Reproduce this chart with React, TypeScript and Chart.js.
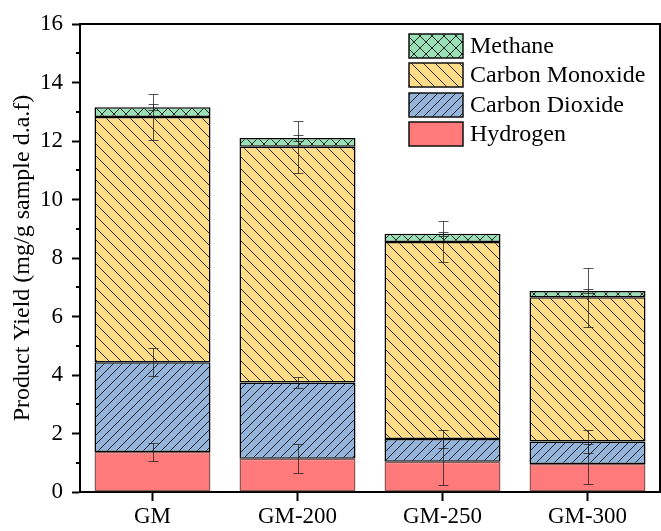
import React, { useEffect, useRef } from 'react';
import { Chart, registerables } from 'chart.js';

Chart.register(...registerables);

const categories = ['GM', 'GM-200', 'GM-250', 'GM-300'];
const hydrogen = [1.37, 1.14, 1.03, 0.96];
const carbonDioxide = [3.07, 2.6, 0.78, 0.77];
const carbonMonoxide = [8.38, 8.06, 6.74, 4.93];
const methane = [0.33, 0.3, 0.28, 0.21];
const hydrogenErr = [0.3, 0.5, 0.78, 0.69];
const carbonDioxideErr = [0.49, 0.19, 0.3, 0.38];
const carbonMonoxideErr = [0.8, 0.89, 0.7, 1.01];
const methaneErr = [0.1, 0.1, 0.07, 0.08];
const seriesNames = ['Hydrogen', 'Carbon Dioxide', 'Carbon Monoxide', 'Methane'];
const yTickMax = 16;
const yTickStep = 2;
const yAxisTitle = 'Product Yield (mg/g sample d.a.f)';

const FONT = '"Liberation Serif", "Times New Roman", serif';

function makePattern(target: CanvasRenderingContext2D, bg: string, kind: string, size: number) {
  const c = document.createElement('canvas');
  c.width = size;
  c.height = size;
  const g = c.getContext('2d')!;
  g.fillStyle = bg;
  g.fillRect(0, 0, size, size);
  if (kind !== 'none') {
    g.strokeStyle = 'rgba(20,20,20,0.9)';
    g.lineWidth = 1;
    g.beginPath();
    for (let k = -1; k <= 1; k++) {
      if (kind === 'fwd' || kind === 'cross') {
        g.moveTo(k * size, size);
        g.lineTo(k * size + size, 0);
      }
      if (kind === 'back' || kind === 'cross') {
        g.moveTo(k * size, 0);
        g.lineTo(k * size + size, size);
      }
    }
    g.stroke();
  }
  return target.createPattern(c, 'repeat') as CanvasPattern;
}

export default function App() {
  const ref = useRef<HTMLCanvasElement | null>(null);

  useEffect(() => {
    const canvas = ref.current!;
    const ctx0 = canvas.getContext('2d')!;
    const errors = [hydrogenErr, carbonDioxideErr, carbonMonoxideErr, methaneErr];

    const fills = [
      makePattern(ctx0, '#FF7A7A', 'none', 12),
      makePattern(ctx0, '#94B4DA', 'fwd', 9),
      makePattern(ctx0, '#FFDD88', 'back', 12),
      makePattern(ctx0, '#9ADFB6', 'cross', 12),
    ];

    const errorPlugin = {
      id: 'errorBars',
      afterDatasetsDraw(chart: any) {
        const ctx = chart.ctx;
        const ys = chart.scales.y;
        ctx.save();
        ctx.strokeStyle = 'rgba(30,30,30,0.75)';
        ctx.lineWidth = 1;
        categories.forEach((_, i) => {
          let cum = 0;
          chart.data.datasets.forEach((ds: any, d: number) => {
            cum += ds.data[i];
            const e = errors[d][i];
            const x = Math.round(chart.getDatasetMeta(d).data[i].x) + 0.5;
            const yt = Math.round(ys.getPixelForValue(cum + e)) + 0.5;
            const yb = Math.round(ys.getPixelForValue(cum - e)) + 0.5;
            ctx.beginPath();
            ctx.moveTo(x, yt);
            ctx.lineTo(x, yb);
            ctx.moveTo(x - 5, yt);
            ctx.lineTo(x + 5, yt);
            ctx.moveTo(x - 5, yb);
            ctx.lineTo(x + 5, yb);
            ctx.stroke();
          });
        });
        ctx.restore();
      },
    };

    const framePlugin = {
      id: 'frameLegend',
      afterDraw(chart: any) {
        const ctx = chart.ctx;
        const a = chart.chartArea;
        const ys = chart.scales.y;
        ctx.save();
        ctx.strokeStyle = '#000';
        ctx.lineWidth = 2;
        ctx.beginPath();
        ctx.moveTo(a.left - 1, a.top);
        ctx.lineTo(a.right, a.top);
        ctx.lineTo(a.right, a.bottom);
        ctx.stroke();
        // minor ticks
        for (let v = 1; v < yTickMax; v += yTickStep) {
          const py = Math.round(ys.getPixelForValue(v));
          ctx.beginPath();
          ctx.moveTo(a.left - 4, py);
          ctx.lineTo(a.left, py);
          ctx.stroke();
        }
        // legend
        const bx = a.right - 251;
        const by = a.top + 10;
        const step = 29.3;
        const order = [3, 2, 1, 0];
        ctx.font = `24px ${FONT}`;
        ctx.textBaseline = 'middle';
        ctx.textAlign = 'left';
        order.forEach((d, j) => {
          const y = Math.round(by + j * step);
          ctx.fillStyle = chart.data.datasets[d].backgroundColor;
          ctx.fillRect(bx, y, 54, 24);
          ctx.lineWidth = 1.5;
          ctx.strokeStyle = '#111';
          ctx.strokeRect(bx, y, 54, 24);
          ctx.fillStyle = '#000';
          ctx.fillText(seriesNames[d], bx + 61, y + 13);
        });
        ctx.restore();
      },
    };

    const values = [hydrogen, carbonDioxide, carbonMonoxide, methane];
    const borderColors = ['rgba(110,50,50,0.8)', '#000', '#000', '#000'];

    const chart = new Chart(canvas, {
      type: 'bar',
      data: {
        labels: categories,
        datasets: values.map((v, d) => ({
          label: seriesNames[d],
          data: v,
          backgroundColor: fills[d],
          borderColor: borderColors[d],
          borderWidth: 1.5,
          borderSkipped: false,
          barPercentage: 0.8,
          categoryPercentage: 1.0,
        })),
      },
      options: {
        responsive: false,
        animation: false,
        layout: { padding: { top: 24, right: 1, left: 0, bottom: 0 } },
        plugins: {
          legend: { display: false },
          tooltip: { enabled: false },
        },
        scales: {
          x: {
            stacked: true,
            grid: {
              display: true,
              drawOnChartArea: false,
              offset: false,
              tickLength: 9,
              tickColor: '#000',
              tickWidth: 2,
            },
            border: { display: true, color: '#000', width: 2 },
            ticks: {
              color: '#000',
              font: { family: FONT, size: 23 },
              padding: 2,
              maxRotation: 0,
              autoSkip: false,
            },
            afterFit: (s: any) => {
              s.height = 39;
            },
          },
          y: {
            stacked: true,
            min: 0,
            max: yTickMax,
            grid: {
              display: true,
              drawOnChartArea: false,
              tickLength: 8,
              tickColor: '#000',
              tickWidth: 2,
            },
            border: { display: true, color: '#000', width: 2 },
            ticks: {
              stepSize: yTickStep,
              color: '#000',
              font: { family: FONT, size: 23 },
              padding: 9,
            },
            title: {
              display: true,
              text: yAxisTitle,
              color: '#000',
              font: { family: FONT, size: 24 },
              padding: { top: 8, bottom: 0 },
            },
            afterFit: (s: any) => {
              s.width = 80;
            },
          },
        },
      } as any,
      plugins: [errorPlugin, framePlugin],
    });

    return () => chart.destroy();
  }, []);

  return (
    <div style={{ position: 'absolute', left: 0, top: 0, width: 661, height: 531 }}>
      <canvas ref={ref} width={661} height={531} style={{ display: 'block' }} />
    </div>
  );
}
